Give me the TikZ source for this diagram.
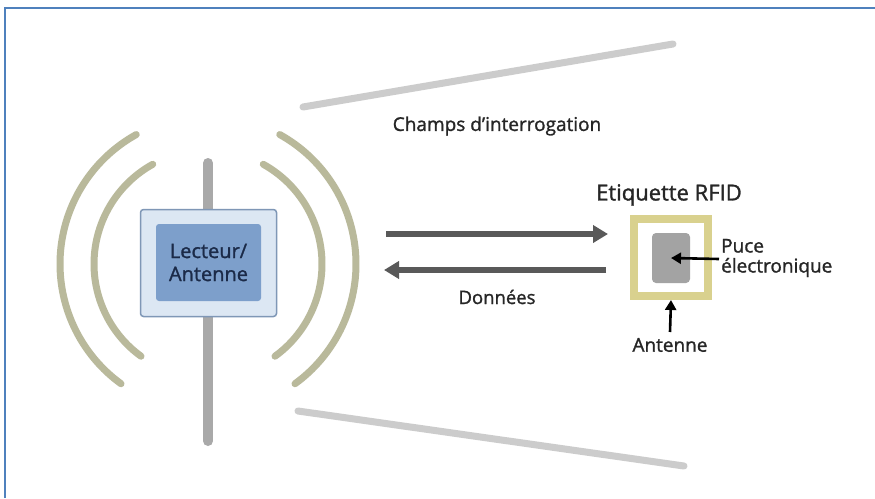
\documentclass[tikz,border=0pt]{standalone}
\usepackage{fontspec}
\setmainfont[FakeBold=1.3]{Open Sans}
\usetikzlibrary{arrows.meta}
\definecolor{frameblue}{HTML}{4F81BD}
\definecolor{polegray}{HTML}{A9A9A9}
\definecolor{wavecol}{HTML}{B9B99B}
\definecolor{beamgray}{HTML}{CCCCCC}
\definecolor{boxfill}{HTML}{DCE7F3}
\definecolor{boxline}{HTML}{7F97B6}
\definecolor{innerfill}{HTML}{7D9FCB}
\definecolor{navy}{HTML}{1B2A48}
\definecolor{txtgray}{HTML}{262626}
\definecolor{arrowgray}{HTML}{595959}
\definecolor{tagyellow}{HTML}{D9D18E}
\definecolor{chipgray}{HTML}{A3A3A3}
\begin{document}
\begin{tikzpicture}[x=1pt,y=-1pt,
  wave/.style={draw=wavecol,line width=7pt,line cap=round},
  beam/.style={draw=beamgray,line width=7pt,line cap=round},
  bigarrow/.style={draw=arrowgray,line width=6pt,-{Triangle[length=15pt,width=17pt]}},
  smallarrow/.style={draw=black,line width=2.6pt,-{Triangle[length=10pt,width=11pt]}},
  label/.style={text=txtgray,font=\fontsize{19}{22}\selectfont,inner sep=0pt},
]
\useasboundingbox (0,0) rectangle (875,498);
\fill[white] (0,0) rectangle (875,498);
% frame (top and left only)
\draw[frameblue,line width=2pt] (5,498) -- (5,8) -- (875,8);
% beams
\coordinate (bt1) at (303,107);
\coordinate (bt2) at (673,44);
\coordinate (bb1) at (298,411);
\coordinate (bb2) at (684,466);
\draw[beam] (bt1) -- (bt2);
\draw[beam] (bb1) -- (bb2);
% pole
\coordinate (pt) at (208,163);
\coordinate (pb) at (208,441);
\draw[polegray,line width=10pt,line cap=round] (pt) -- (pb);
% waves
\coordinate (c) at (208,264);
\draw[wave] ([shift={(-61:148)}]c) arc[start angle=-61,end angle=54,radius=148];
\draw[wave] ([shift={(-61:114)}]c) arc[start angle=-61,end angle=54,radius=114];
\draw[wave] ([shift={(-119:148)}]c) arc[start angle=-119,end angle=-234,radius=148];
\draw[wave] ([shift={(-119:114)}]c) arc[start angle=-119,end angle=-234,radius=114];
% reader box
\node[draw=boxline,fill=boxfill,line width=1.5pt,rounded corners=3pt,
      minimum width=136pt,minimum height=107pt,inner sep=0pt] (reader) at (208.5,263) {};
\node[fill=innerfill,rounded corners=3pt,minimum width=105pt,minimum height=77pt,
      inner sep=0pt,align=center,text=navy,font=\fontsize{20}{23}\selectfont] (inner) at (208.5,262.5) {Lecteur/\\Antenne};
% labels
\node[label] (champs) at (497,126) {Champs d’interrogation};
% arrows
\coordinate (a1s) at (386,234);
\coordinate (a1e) at (608,234);
\coordinate (a2s) at (606,270);
\coordinate (a2e) at (384,270);
\draw[bigarrow] (a1s) -- (a1e);
\draw[bigarrow] (a2s) -- (a2e);
\node[label,font=\fontsize{18.5}{22}\selectfont] (donnees) at (497,297) {Données};
% tag
\node[label,font=\fontsize{22}{26}\selectfont] (etiq) at (669,195) {Etiquette RFID};
\node[draw=tagyellow,line width=8pt,minimum width=74pt,minimum height=77pt,inner sep=0pt] (tag) at (671,257.5) {};
\node[fill=chipgray,rounded corners=4pt,minimum width=38pt,minimum height=50pt,inner sep=0pt] (chip) at (671,258) {};
\node[label,anchor=west,align=left,font=\fontsize{19}{20}\selectfont] (puce) at (721,258) {Puce\\électronique};
\coordinate (pa) at (719,259);
\draw[smallarrow] (pa) -- (chip.center);
\node[label] (ant) at (670,345) {Antenne};
\coordinate (aa) at (670,332);
\draw[smallarrow] (aa) -- (tag.south);
\end{tikzpicture}
\end{document}
